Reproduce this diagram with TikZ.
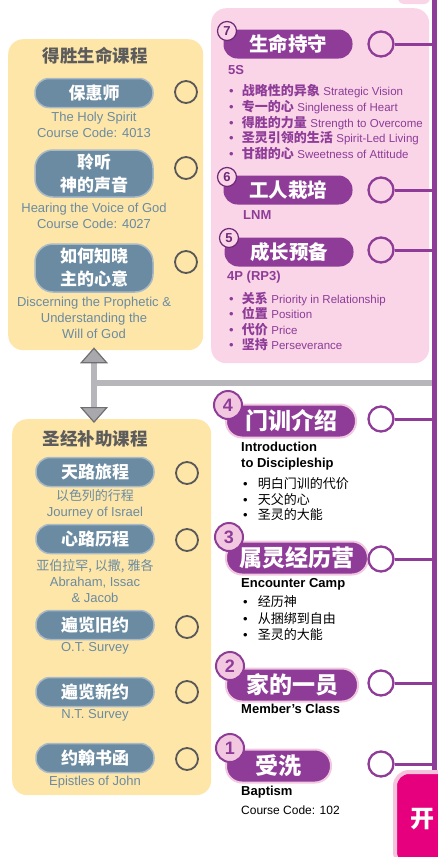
\documentclass[tikz,border=0pt]{standalone}
\usepackage{fontspec}
\setmainfont{Liberation Sans}
\newfontfamily\cjk{Noto Sans CJK SC}
\usetikzlibrary{arrows.meta}

\definecolor{lifepurple}{HTML}{8E3C98}
\definecolor{numdark}{HTML}{6E2A78}
\definecolor{panelpink}{HTML}{F9D5E7}
\definecolor{numpink}{HTML}{F2C8E1}
\definecolor{paneltan}{HTML}{FEE6A9}
\definecolor{pillblue}{HTML}{6A8BA1}
\definecolor{pilledge}{HTML}{A9B9C6}
\definecolor{textblue}{HTML}{6B8BA0}
\definecolor{titlegrey}{HTML}{5C5C5C}
\definecolor{ringgrey}{HTML}{585858}
\definecolor{railgrey}{HTML}{B7B7BB}
\definecolor{tipgrey}{HTML}{A9A9AD}
\definecolor{tipedge}{HTML}{6F6F72}
\definecolor{startpink}{HTML}{E6007E}
\definecolor{startedge}{HTML}{F6C3DD}

\newcommand{\bul}{{\rmfamily\textbullet}\hspace{8pt}}
\newcommand{\engl}[1]{{\fontsize{11.5}{15.6}\selectfont #1}}

\begin{document}
\begin{tikzpicture}[x=1pt, y=-1pt,
    every node/.style={inner sep=0pt},
    tanpanel/.style={fill=paneltan, rounded corners=15pt, anchor=north west},
    pinkpanel/.style={fill=panelpink, rounded corners=15pt, anchor=north west},
    ltitle/.style={text=titlegrey, font=\cjk\bfseries\fontsize{17.5}{19}\selectfont},
    lpill/.style={draw=pilledge, line width=1.5pt, fill=pillblue, rounded corners=14pt, minimum width=118pt, minimum height=29pt, text=white, align=center, font=\cjk\bfseries\fontsize{17}{23}\selectfont},
    lring/.style={circle, draw=ringgrey, line width=1.8pt, minimum size=22pt},
    lnote/.style={text=textblue, align=center, font=\fontsize{13}{16}\selectfont},
    tpill/.style={fill=lifepurple, rounded corners=14pt, minimum width=129pt, minimum height=29pt, text=white, font=\cjk\bfseries\fontsize{19.5}{21}\selectfont},
    tnum/.style={circle, draw=numdark, fill=panelpink, line width=1.2pt, minimum size=19pt, text=numdark, font=\bfseries\fontsize{13}{13}\selectfont},
    tsub/.style={anchor=west, text=lifepurple, font=\bfseries\fontsize{13}{15}\selectfont},
    tlist/.style={anchor=north west, align=left, text=lifepurple, font=\fontsize{13}{15.6}\selectfont},
    bpill/.style={fill=lifepurple, draw=numpink, line width=2pt, rounded corners=16pt, minimum height=33pt, anchor=west, text=white, font=\cjk\bfseries\fontsize{23}{25}\selectfont},
    bnum/.style={circle, draw=lifepurple, fill=numpink, line width=2pt, minimum size=28pt, text=lifepurple, font=\bfseries\fontsize{18}{18}\selectfont},
    bhead/.style={anchor=north west, align=left, font=\bfseries\fontsize{13}{16}\selectfont},
    blist/.style={anchor=north west, align=left, font=\cjk\fontsize{13}{15.5}\selectfont},
    ring/.style={circle, draw=lifepurple, fill=white, line width=2.3pt, minimum size=25pt},
    link/.style={draw=lifepurple, line width=3pt},
    bar/.style={draw=lifepurple, line width=5pt},
    rail/.style={draw=railgrey, line width=6pt},
    updown/.style={rail, shorten <=-3pt, shorten >=-4pt,
        {Triangle[width=28pt, length=16pt, fill=tipgrey, color=tipedge, line width=1.2pt]}-{Triangle[width=28pt, length=16pt, fill=tipgrey, color=tipedge, line width=1.2pt]}},
    startbox/.style={fill=startpink, draw=startedge, line width=4pt, rounded corners=14pt, anchor=north west, text width=65pt, inner xsep=15pt, minimum height=94pt, align=left, text=white, font=\cjk\bfseries\fontsize{24}{24}\selectfont}
]
\useasboundingbox (0,0) rectangle (438,857);

\coordinate (bartop) at (434,0);
\coordinate (split) at (94,383);

% Victorious life courses
\node[tanpanel, minimum width=195pt, minimum height=311pt] (vict) at (8,39) {};
\node[ltitle] (victt) at (95,56) {得胜生命课程};
\node[lpill] (hs) at (94,93) {保惠师};
\node[lring] (ohs) at (186,92) {};
\node[lnote] (hsn) at (94,124.5) {The Holy Spirit\\Course Code: 4013};
\node[lpill, minimum height=47pt, rounded corners=18pt] (hv) at (94,173.5) {聆听\\神的声音};
\node[lring] (ohv) at (186,168) {};
\node[lnote] (hvn) at (94,215.5) {Hearing the Voice of God\\Course Code: 4027};
\node[lpill, minimum height=48pt, rounded corners=18pt] (dp) at (94,268) {如何知晓\\主的心意};
\node[lring] (odp) at (186,262) {};
\node[lnote] (dpn) at (94,318) {Discerning the Prophetic \&\\Understanding the\\Will of God};

% Bible courses
\node[tanpanel, minimum width=199pt, minimum height=376pt] (bible) at (12,419) {};
\node[ltitle] (biblet) at (95,439) {圣经补助课程};
\node[lpill] (ji) at (95,472) {天路旅程};
\node[lring] (oji) at (187,473) {};
\node[lnote] (jin) at (95,504.5) {{\cjk 以色列的行程}\\Journey of Israel};
\node[lpill] (aij) at (95,539) {心路历程};
\node[lring] (oaij) at (187,540) {};
\node[lnote] (aijn) at (95,581) {{\cjk 亚伯拉罕, 以撒, 雅各}\\Abraham, Issac\\\& Jacob};
\node[lpill] (ot) at (95,625) {遍览旧约};
\node[lring] (oot) at (187,627) {};
\node[lnote] (otn) at (95,648) {O.T. Survey};
\node[lpill] (nt) at (95,692) {遍览新约};
\node[lring] (ont) at (187,692) {};
\node[lnote] (ntn) at (95,715) {N.T. Survey};
\node[lpill] (ej) at (95,758) {约翰书函};
\node[lring] (oej) at (187,759) {};
\node[lnote] (ejn) at (95,782) {Epistles of John};

% grey rail and double arrow
\draw[rail] (split) -- (split -| bartop);
\draw[updown] (vict.south -| split) -- (bible.north -| split);

% Pink panel, steps 7 to 5
\fill[panelpink, rounded corners=6pt] (398,-10) rectangle (430,4);
\node[pinkpanel, minimum width=218pt, minimum height=355pt] (life) at (211,8) {};

\node[tpill] (p7) at (288,44) {生命持守};
\node[tnum] (n7) at (227,31) {7};
\node[ring, fill=panelpink] (c7) at (381,44) {};
\draw[link] (c7) -- (c7 -| bartop);
\node[tsub] (s7) at (228,70) {5S};
\node[tlist] (l7) at (229,84.6) {\bul{\cjk\bfseries 战略性的异象} \engl{Strategic Vision}\\
  \bul{\cjk\bfseries 专一的心} \engl{Singleness of Heart}\\
  \bul{\cjk\bfseries 得胜的力量} \engl{Strength to Overcome}\\
  \bul{\cjk\bfseries 圣灵引领的生活} \engl{Spirit-Led Living}\\
  \bul{\cjk\bfseries 甘甜的心} \engl{Sweetness of Attitude}};

\node[tpill] (p6) at (288,190) {工人栽培};
\node[tnum] (n6) at (227,177) {6};
\node[ring, fill=panelpink] (c6) at (381,190) {};
\draw[link] (c6) -- (c6 -| bartop);
\node[tsub] (s6) at (243,215) {LNM};

\node[tpill] (p5) at (289,252) {成长预备};
\node[tnum] (n5) at (229,238) {5};
\node[ring, fill=panelpink] (c5) at (381,250) {};
\draw[link] (c5) -- (c5 -| bartop);
\node[tsub] (s5) at (227,277) {4P (RP3)};
\node[tlist] (l5) at (229,291.6) {\bul{\cjk\bfseries 关系} \engl{Priority in Relationship}\\
  \bul{\cjk\bfseries 位置} \engl{Position}\\
  \bul{\cjk\bfseries 代价} \engl{Price}\\
  \bul{\cjk\bfseries 坚持} \engl{Perseverance}};

% Steps 4 to 1
\node[bpill, minimum width=130pt] (p4) at (225,421) {门训介绍};
\node[bnum] (n4) at (228,405) {4};
\node[ring] (c4) at (381,419) {};
\draw[link] (c4) -- (c4 -| bartop);
\node[bhead] (h4) at (241,442) {Introduction\\to Discipleship};
\node[blist] (l4) at (243,477.6) {\bul\hspace{2pt}明白门训的代价\\ \bul\hspace{2pt}天父的心\\ \bul\hspace{2pt}圣灵的大能};

\node[bpill, minimum width=142pt] (p3) at (225,558) {属灵经历营};
\node[bnum] (n3) at (229,537) {3};
\node[ring] (c3) at (381,559) {};
\draw[link] (c3) -- (c3 -| bartop);
\node[bhead, anchor=west] (h3) at (241,584) {Encounter Camp};
\node[blist, font=\cjk\fontsize{13}{16.5}\selectfont] (l3) at (243,595.6) {\bul\hspace{2pt}经历神\\ \bul\hspace{2pt}从捆绑到自由\\ \bul\hspace{2pt}圣灵的大能};

\node[bpill, minimum width=132pt] (p2) at (225,685) {家的一员};
\node[bnum] (n2) at (230,666) {2};
\node[ring] (c2) at (381,683) {};
\draw[link] (c2) -- (c2 -| bartop);
\node[bhead, anchor=west] (h2) at (241,709) {Member's Class};

\node[bpill, minimum width=105pt] (p1) at (225,766) {受洗};
\node[bnum] (n1) at (230,748) {1};
\node[ring] (c1) at (381,764) {};
\draw[link] (c1) -- (c1 -| bartop);
\node[bhead, anchor=west] (h1) at (241,792) {Baptism};
\node[anchor=west, font=\fontsize{12}{14}\selectfont] (cc1) at (241,810) {Course Code: 102};

% start box and purple bar
\node[startbox] (start) at (393,770) {开};
\draw[bar] (bartop) -- (start.north -| bartop);

\end{tikzpicture}
\end{document}
